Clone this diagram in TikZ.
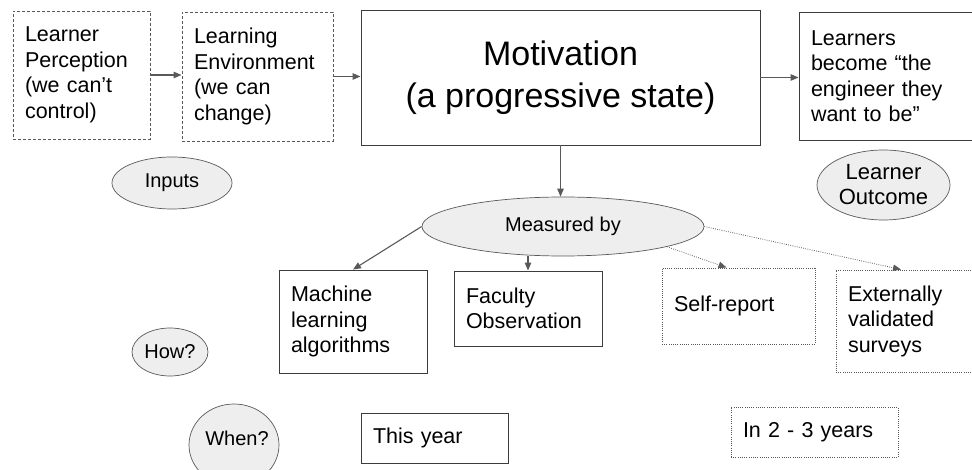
\documentclass[tikz,border=0pt]{standalone}
\usepackage{fontspec}
\setmainfont{Liberation Sans}
\usetikzlibrary{arrows.meta,calc,shapes.geometric}

\definecolor{edgegray}{HTML}{595959}
\definecolor{linegray}{HTML}{3C3C3C}
\definecolor{ovalfill}{HTML}{EEEEEE}

\tikzset{
  box/.style={draw=linegray, line width=0.9pt, align=left, inner sep=0pt, font=\fontsize{21.5}{25.5}\selectfont},
  softbox/.style={box, draw=edgegray, dash pattern=on 3pt off 2pt},
  dotbox/.style={box, draw=edgegray, dash pattern=on 0.8pt off 1.4pt},
  oval/.style={ellipse, draw=edgegray, line width=0.7pt, fill=ovalfill, inner sep=0pt, align=center, font=\fontsize{20}{24}\selectfont},
  link/.style={draw=edgegray, line width=1.1pt, -{Triangle[length=8pt,width=6.5pt]}},
  dotlink/.style={link, line width=0.8pt, dash pattern=on 0.8pt off 1.4pt},
}

\begin{document}
\begin{tikzpicture}[x=1pt, y=-1pt]
    \useasboundingbox (0,0) rectangle (972,470);
    % top row
    \node[softbox, minimum width=137, minimum height=128, text width=113] (perc) at (81.5,75) {Learner\\Perception\\(we can’t\\control)};
    \node[softbox, minimum width=151, minimum height=129, text width=127] (env) at (257.5,76.5) {Learning\\Environment\\(we can\\change)};
    \node[box, minimum width=399, minimum height=135, align=center, font=\fontsize{34}{42}\selectfont] (motiv) at (560.5,77.5) {Motivation\\(a progressive state)};
    \node[box, minimum width=191, minimum height=128, text width=167] (become) at (894.5,76) {Learners\\become “the\\engineer they\\want to be”};
    % labels
    \node[oval, minimum width=120, minimum height=52] (inputs) at (172,183) {Inputs};
    \node[oval, minimum width=133, minimum height=70, font=\fontsize{22}{25}\selectfont] (lout) at (883.5,185) {Learner\\Outcome};
    \node[oval, minimum width=282, minimum height=59] (meas) at (563,226.5) {Measured by};
    \node[oval, minimum width=76, minimum height=48] (how) at (170,352) {How?};
    \node[oval, minimum width=90, minimum height=82] (when) at (234,445) {};
    \node[font=\fontsize{20}{24}\selectfont] (whentext) at (237,438) {When?};
    % measures
    \node[box, minimum width=148, minimum height=103, text width=124] (ml) at (353,321.5) {Machine\\learning\\algorithms};
    \node[box, minimum width=148, minimum height=75, text width=124] (fac) at (528,308.5) {Faculty\\Observation};
    \node[dotbox, minimum width=153, minimum height=76, text width=129] (self) at (738.5,306) {Self-report};
    \node[dotbox, minimum width=154, minimum height=102, text width=130] (ext) at (913,321) {Externally\\validated\\surveys};
    % time frames
    \node[box, minimum width=147, minimum height=50, text width=123] (thisyr) at (434.5,438) {This year};
    \node[dotbox, minimum width=167, minimum height=50, text width=143] (later) at (814.5,432) {In 2 - 3 years};
    % connectors
    \draw[link] (perc.east) -- (perc.east -| env.west);
    \draw[link] (env.east) -- (env.east -| motiv.west);
    \draw[link] (motiv.east) -- (motiv.east -| become.west);
    \draw[link] (motiv.south) -- (motiv.south |- meas.north);
    \draw[link] (meas.west) -- (ml.north);
    \draw[link] (fac.north |- meas.south) -- (fac.north);
    \draw[dotlink] (meas.-11) -- ($(self.north)+(-12,0)$);
    \draw[dotlink] (meas.east) -- ($(ext.north)+(-12,0)$);
\end{tikzpicture}
\end{document}
